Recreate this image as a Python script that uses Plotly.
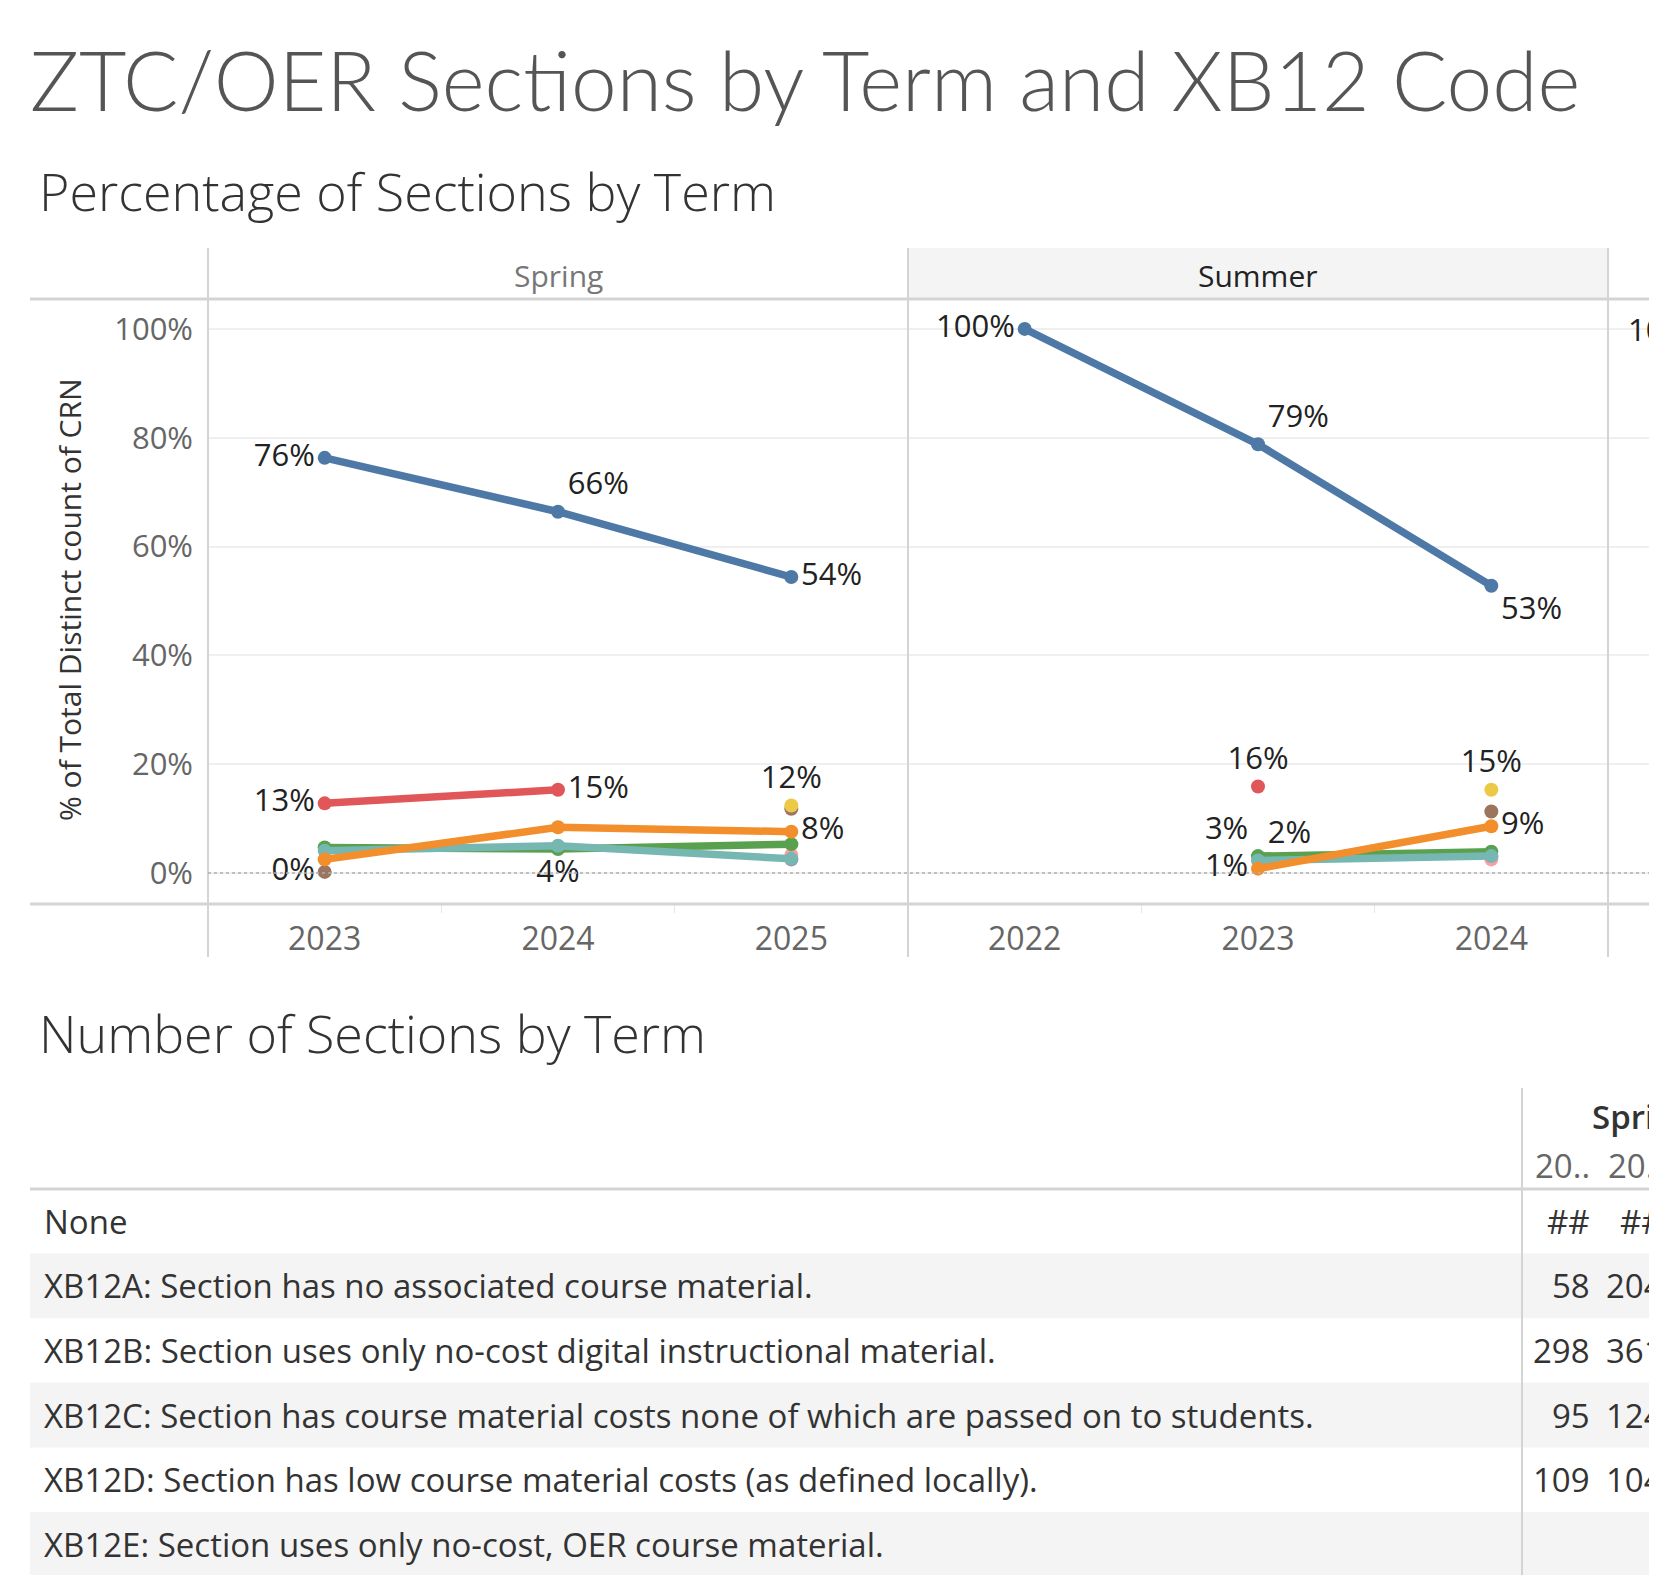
import plotly.graph_objects as go

# ---------------- data ----------------
SPRING_YEARS = ["2023", "2024", "2025"]
SUMMER_YEARS = ["2022", "2023", "2024"]
FALL_YEARS = ["2022", "2023", "2024"]

SERIES = ["None", "XB12A", "XB12B", "XB12C", "XB12D", "XB12E", "XB12F", "XB12G", "XB12H"]

# % of total distinct count of CRN (None = no sections that term)
NONE_SPRING = [76.3, 66.4, 54.4]
XB12A_SPRING = [2.5, 8.4, 7.6]
XB12B_SPRING = [12.8, 15.3, None]
XB12C_SPRING = [4.1, 5.0, 2.6]
XB12D_SPRING = [4.7, 4.4, 5.3]
XB12E_SPRING = [None, None, 12.4]
XB12F_SPRING = [None, None, 2.5]
XB12G_SPRING = [None, None, 3.3]
XB12H_SPRING = [0.2, None, 11.8]

NONE_SUMMER = [100.0, 78.8, 52.8]
XB12A_SUMMER = [None, 0.8, 8.6]
XB12B_SUMMER = [None, 15.9, None]
XB12C_SUMMER = [None, 2.3, 3.1]
XB12D_SUMMER = [None, 3.1, 3.9]
XB12E_SUMMER = [None, None, 15.3]
XB12F_SUMMER = [None, None, 3.0]
XB12G_SUMMER = [None, None, 2.5]
XB12H_SUMMER = [None, None, 11.3]

NONE_FALL = [100.0, None, None]

Y_TICKS = [0, 20, 40, 60, 80, 100]

# table: number of sections
TABLE_ROWS = [
    "None",
    "XB12A: Section has no associated course material.",
    "XB12B: Section uses only no-cost digital instructional material.",
    "XB12C: Section has course material costs none of which are passed on to students.",
    "XB12D: Section has low course material costs (as defined locally).",
    "XB12E: Section uses only no-cost, OER course material.",
]
COUNTS_SPRING_2023 = [1770, 58, 298, 95, 109, None]
COUNTS_SPRING_2024 = [1570, 204, 361, 124, 104, None]

# ---------------- styles ----------------
W, H = 1657, 1575          # browser window
OFF = 8                    # page body margin
WF, HF = W - OFF, H - OFF  # figure size
def px(x): return (x - OFF) / WF
def py(y): return 1 - (y - OFF) / HF

FONT = "Open Sans"
TITLE_FONT = "Lato"
COLORS = {"None": "#4e79a7", "XB12A": "#f28e2b", "XB12B": "#e15759", "XB12C": "#76b7b2",
          "XB12D": "#59a14f", "XB12E": "#edc948", "XB12F": "#b07aa1", "XB12G": "#ff9da7",
          "XB12H": "#9c755f"}
DRAW_ORDER = ["XB12H", "XB12F", "XB12G", "XB12E", "XB12D", "XB12C", "XB12B", "XB12A", "None"]

LABEL_POS = {
    ("Spring", "None"): ["middle left", "top right", "middle right"],
    ("Spring", "XB12B"): ["middle left", "middle right", None],
    ("Spring", "XB12A"): [None, None, "middle right"],
    ("Spring", "XB12E"): [None, None, "top center"],
    ("Spring", "XB12H"): ["middle left", None, None],
    ("Spring", "XB12D"): [None, "bottom center", None],
    ("Summer", "None"): ["middle left", "top right", "bottom right"],
    ("Summer", "XB12B"): [None, "top center", None],
    ("Summer", "XB12D"): [None, "top left", None],
    ("Summer", "XB12C"): [None, "top right", None],
    ("Summer", "XB12A"): [None, "middle left", "middle right"],
    ("Summer", "XB12E"): [None, None, "top center"],
}

FACETS = [
    ("Spring", SPRING_YEARS, "x", "y", {
        "None": NONE_SPRING, "XB12A": XB12A_SPRING, "XB12B": XB12B_SPRING, "XB12C": XB12C_SPRING,
        "XB12D": XB12D_SPRING, "XB12E": XB12E_SPRING, "XB12F": XB12F_SPRING,
        "XB12G": XB12G_SPRING, "XB12H": XB12H_SPRING}),
    ("Summer", SUMMER_YEARS, "x2", "y2", {
        "None": NONE_SUMMER, "XB12A": XB12A_SUMMER, "XB12B": XB12B_SUMMER, "XB12C": XB12C_SUMMER,
        "XB12D": XB12D_SUMMER, "XB12E": XB12E_SUMMER, "XB12F": XB12F_SUMMER,
        "XB12G": XB12G_SUMMER, "XB12H": XB12H_SUMMER}),
    ("Fall", FALL_YEARS, "x3", "y3", {"None": NONE_FALL}),
]

def pct(v):
    return "%d%%" % round(v)

LABEL_SIZE = 31
fig = go.Figure()

for facet, years, xa, ya, data in FACETS:
    for s in DRAW_ORDER:
        if s not in data:
            continue
        vals = data[s]
        pos = LABEL_POS.get((facet, s), [None] * len(vals))
        texts = [pct(v) if (v is not None and p) else "" for v, p in zip(vals, pos)]
        tpos = [p if p else "middle center" for p in pos]
        fig.add_trace(go.Scatter(
            x=years, y=vals, xaxis=xa, yaxis=ya, name=s, showlegend=False,
            mode="lines+markers+text", connectgaps=False,
            line=dict(color=COLORS[s], width=7.5),
            marker=dict(color=COLORS[s], size=14),
            text=texts, textposition=tpos,
            textfont=dict(family=FONT, size=LABEL_SIZE, color="#222222"),
            cliponaxis=True, hoverinfo="skip"))

pane_w = (908 - 208) / 3.0
axis_common = dict(type="category", range=[-0.5, 2.5], showgrid=False, zeroline=False,
                   showline=False, tickson="boundaries", ticks="outside", ticklen=8,
                   tickcolor="#e6e6e6", tickfont=dict(family=FONT, size=32, color="#666666"),
                   ticklabelstandoff=13, fixedrange=True, categoryorder="array")
yaxis_common = dict(range=[-5.7, 105.5], tickvals=Y_TICKS, ticktext=[pct(v) for v in Y_TICKS],
                    showgrid=True, gridcolor="#efefef", gridwidth=2, zeroline=False,
                    showline=False, fixedrange=True, domain=[py(904), py(299)])

tbl_left = -(1592 - 30) / 73.0
fig.update_layout(
    width=WF, height=HF, margin=dict(l=0, r=0, t=0, b=0),
    paper_bgcolor="white", plot_bgcolor="rgba(0,0,0,0)",
    xaxis=dict(domain=[px(208), px(908)], anchor="y", categoryarray=SPRING_YEARS, **axis_common),
    xaxis2=dict(domain=[px(908), px(1608)], anchor="y2", categoryarray=SUMMER_YEARS, **axis_common),
    xaxis3=dict(domain=[px(1608), 1], anchor="y3", categoryarray=FALL_YEARS,
                **{**axis_common, "range": [-0.5, -0.5 + (W - 1608) / pane_w], "showticklabels": False}),
    yaxis=dict(anchor="x", tickfont=dict(family=FONT, size=31, color="#666666"),
               ticklabelstandoff=14, **yaxis_common),
    yaxis2=dict(anchor="x2", matches="y", showticklabels=False, **yaxis_common),
    yaxis3=dict(anchor="x3", matches="y", showticklabels=False, **yaxis_common),
    xaxis4=dict(domain=[px(30), 1], anchor="y4", range=[tbl_left, tbl_left + (W - 30) / 73.0],
                visible=False, fixedrange=True),
    yaxis4=dict(domain=[py(1575), py(1088)], anchor="x4",
                range=[-0.5 + (1575 - 1189) / 64.6, -0.5 - (1189 - 1088) / 64.6],
                visible=False, fixedrange=True),
)

shapes = []
LINE = "#d4d4d4"
shapes.append(dict(type="rect", xref="x2 domain", x0=0, x1=1, yref="paper", y0=py(299), y1=py(248),
                   fillcolor="#f4f4f4", line=dict(width=0), layer="below"))
shapes.append(dict(type="line", xref="paper", x0=px(30), x1=1, yref="paper", y0=py(299), y1=py(299),
                   line=dict(color=LINE, width=3)))
shapes.append(dict(type="line", xref="paper", x0=px(30), x1=1, yref="paper", y0=py(904), y1=py(904),
                   line=dict(color=LINE, width=3)))
for xp in (208, 908, 1608):
    shapes.append(dict(type="line", xref="paper", x0=px(xp), x1=px(xp), yref="paper", y0=py(957), y1=py(248),
                       line=dict(color=LINE, width=2)))
shapes.append(dict(type="line", xref="paper", x0=px(208), x1=1, yref="y", y0=0, y1=0,
                   line=dict(color="#b0b0b0", width=1.5, dash="dot")))
for i in range(len(TABLE_ROWS)):
    if i % 2 == 1:
        shapes.append(dict(type="rect", xref="x4 domain", x0=0, x1=1, yref="y4", y0=i - 0.5, y1=i + 0.5,
                           fillcolor="#f4f4f4", line=dict(width=0), layer="below"))
shapes.append(dict(type="line", xref="paper", x0=px(30), x1=1, yref="y4", y0=-0.5, y1=-0.5,
                   line=dict(color=LINE, width=3)))
shapes.append(dict(type="line", xref="paper", x0=px(1522), x1=px(1522), yref="paper", y0=0, y1=py(1088),
                   line=dict(color=LINE, width=2)))
fig.update_layout(shapes=shapes)

ann = []
ann.append(dict(text="ZTC/OER Sections by Term and XB12 Code", xref="paper", yref="paper",
                x=px(28), y=py(79), xanchor="left", yanchor="middle", showarrow=False,
                font=dict(family=TITLE_FONT, size=82, color="#555555", weight=300)))
ann.append(dict(text="Percentage of Sections by Term", xref="paper", yref="paper",
                x=px(37), y=py(191), xanchor="left", yanchor="middle", showarrow=False,
                font=dict(family=FONT, size=52, color="#333333", weight=300)))
ann.append(dict(text="Number of Sections by Term", xref="paper", yref="paper",
                x=px(37), y=py(1032), xanchor="left", yanchor="middle", showarrow=False,
                font=dict(family=FONT, size=52, color="#333333", weight=300)))
ann.append(dict(text="% of Total Distinct count of CRN", xref="paper", yref="paper",
                x=px(70), y=py(600), xanchor="center", yanchor="middle", textangle=-90, showarrow=False,
                font=dict(family=FONT, size=30, color="#333333", weight=500)))
for (facet, years, xa, ya, data), col in zip(FACETS[:2], ["#777777", "#222222"]):
    ann.append(dict(text=facet, xref=xa + " domain", x=0.5, yref="paper", y=py(275),
                    xanchor="center", yanchor="middle", showarrow=False,
                    font=dict(family=FONT, size=30, color=col)))
# third (cut-off) pane: label of its first point, which lies beyond the window edge
ann.append(dict(text=pct(NONE_FALL[0]), xref="x3", x=-0.5, xshift=pane_w * 0.5 - 16,
                yref="y3", y=NONE_FALL[0], xanchor="right", yanchor="middle", showarrow=False,
                font=dict(family=FONT, size=LABEL_SIZE, color="#222222")))

def fmt(v):
    if v is None:
        return ""
    return "##" if v >= 1000 else str(v)

COL_W = 73
TBL_SIZE = 33
for i, label in enumerate(TABLE_ROWS):
    ann.append(dict(text=label, xref="x4 domain", x=12 / (W - 30), yref="y4", y=i,
                    xanchor="left", yanchor="middle", showarrow=False,
                    font=dict(family=FONT, size=TBL_SIZE, color="#333333")))
    for j, col in enumerate([COUNTS_SPRING_2023, COUNTS_SPRING_2024]):
        ann.append(dict(text=fmt(col[i]), xref="x4", x=0, xshift=j * COL_W, yref="y4", y=i,
                        xanchor="right", yanchor="middle", showarrow=False,
                        font=dict(family=FONT, size=TBL_SIZE, color="#333333")))
for j, yr in enumerate(SPRING_YEARS[:2]):
    ann.append(dict(text=yr[:2] + "..", xref="x4", x=0, xshift=j * COL_W, yref="y4", y=-0.87,
                    xanchor="right", yanchor="middle", showarrow=False,
                    font=dict(family=FONT, size=TBL_SIZE, color="#666666")))
ann.append(dict(text="Spring", xref="x4", x=0, xshift=-2, yref="y4", y=-1.63,
                xanchor="left", yanchor="middle", showarrow=False,
                font=dict(family=FONT, size=TBL_SIZE, color="#333333", weight=600)))
fig.update_layout(annotations=ann)

fig.write_html("out.html")
